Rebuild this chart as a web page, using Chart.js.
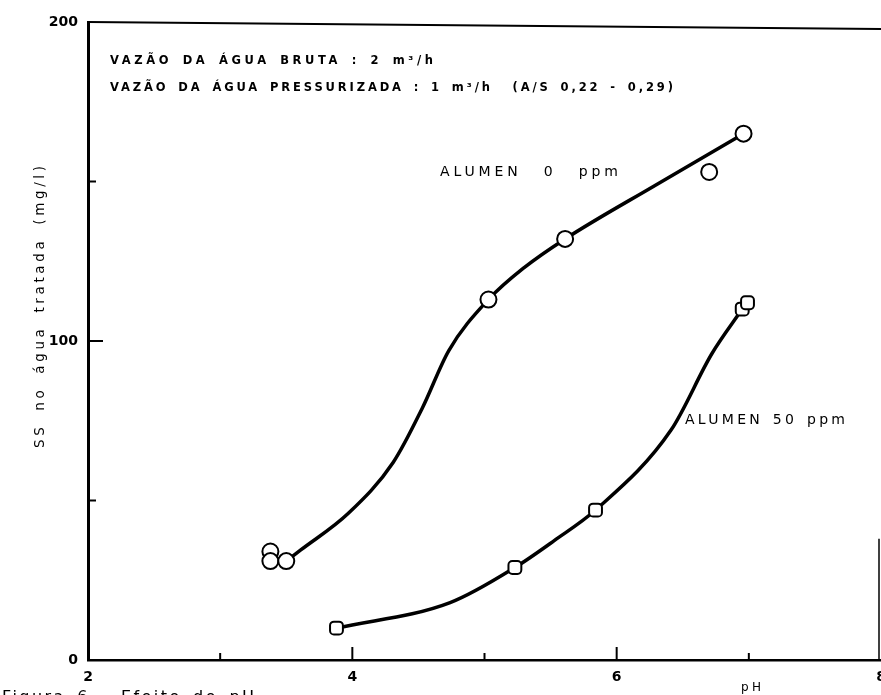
<!DOCTYPE html>
<html><head><meta charset="utf-8">
<script src="https://cdn.jsdelivr.net/npm/chart.js@4.4.1/dist/chart.umd.min.js"></script>
<style>html,body{margin:0;padding:0;background:#fff;overflow:hidden}
#wrap{position:relative;width:881px;height:695px;overflow:hidden}
canvas{display:block}</style></head>
<body><div id="wrap"><canvas id="c" width="891" height="695"></canvas></div>
<script>
// Measured points (pH, SS mg/l)
const phAlumen0 = [3.38, 3.38, 3.50, 5.03, 5.61, 6.70, 6.96];
const ssAlumen0 = [34, 31, 31, 113, 132, 153, 165];
const phAlumen50 = [3.88, 5.23, 5.84, 6.95, 6.99];
const ssAlumen50 = [10, 29, 47, 110, 112];
// Hand-drawn fitted curves
const phCurve0 = [3.50, 3.61, 3.97, 4.31, 4.53, 4.73, 5.03, 5.30, 5.61, 6.30, 6.96];
const ssCurve0 = [31, 34.5, 46, 62, 79, 97, 113, 123, 132, 149, 165];
const phCurve50 = [3.88, 4.74, 5.23, 5.53, 5.84, 6.41, 6.72, 6.95];
const ssCurve50 = [10, 18, 29, 37.5, 47, 72, 96, 110];
// Axis ticks
const xLabeledTicks = [2, 4, 6, 8];
const xMajorMarks = [4, 6];
const xMinorMarks = [3, 5, 7];
const yLabeledTicks = [0, 100, 200];
const yMajorMarks = [100];
const yMinorMarks = [50, 150];
// Texts
const noteLine1 = 'VAZÃO DA ÁGUA BRUTA : 2 m³/h';
const noteLine2 = 'VAZÃO DA ÁGUA PRESSURIZADA : 1 m³/h  (A/S 0,22 - 0,29)';
const label0 = 'ALUMEN 0 ppm';
const label50 = 'ALUMEN 50 ppm';
const yTitle = 'SS no água tratada (mg/l)';
const xTitle = 'pH';
const caption = 'Figura 6 - Efeito do pH';

const pts = (xs, ys) => xs.map((x, i) => ({x: x, y: ys[i]}));

function fitText(ctx, text, x, y, width, font, ws) {
  ctx.save();
  ctx.font = font;
  ctx.fillStyle = '#000';
  ctx.textBaseline = 'middle';
  ctx.textAlign = 'left';
  ctx.letterSpacing = '0px';
  ctx.wordSpacing = (ws || 0) + 'px';
  const w0 = ctx.measureText(text).width;
  const n = [...text].length;
  const ls = (width - w0) / (n - 1);
  ctx.letterSpacing = ls + 'px';
  ctx.fillText(text, x, y);
  ctx.restore();
}

const decor = {
  id: 'decor',
  afterDraw(chart) {
    const ctx = chart.ctx, a = chart.chartArea, xs = chart.scales.x, ys = chart.scales.y;
    ctx.save();
    ctx.strokeStyle = '#000';
    ctx.lineCap = 'butt';
    // frame top line & partial right line
    ctx.lineWidth = 2;
    ctx.beginPath(); ctx.moveTo(a.left, a.top); ctx.lineTo(a.right, a.top + 7); ctx.stroke();
    ctx.lineWidth = 1.5;
    ctx.beginPath(); ctx.moveTo(a.right - 2, ys.getPixelForValue(38)); ctx.lineTo(a.right - 2, a.bottom); ctx.stroke();
    // inward tick marks
    ctx.lineWidth = 2;
    const tick = (x1, y1, x2, y2) => { ctx.beginPath(); ctx.moveTo(x1, y1); ctx.lineTo(x2, y2); ctx.stroke(); };
    xMajorMarks.forEach(v => { const px = xs.getPixelForValue(v); tick(px, a.bottom, px, a.bottom - 13); });
    xMinorMarks.forEach(v => { const px = xs.getPixelForValue(v); tick(px, a.bottom, px, a.bottom - 7); });
    yMajorMarks.forEach(v => { const py = ys.getPixelForValue(v); tick(a.left, py, a.left + 15, py); });
    yMinorMarks.forEach(v => { const py = ys.getPixelForValue(v); tick(a.left, py, a.left + 8, py); });
    ctx.restore();

    // annotations
    fitText(ctx, noteLine1, 110, 61, 323, 'bold 11.5px "DejaVu Sans"', 3);
    fitText(ctx, noteLine2, 110, 88, 563, 'bold 11.5px "DejaVu Sans"', 3);
    fitText(ctx, label0, 440, 172, 178, '14px "DejaVu Sans"', 14);
    fitText(ctx, label50, 685, 420, 160, '14px "DejaVu Sans"', 2);
    // y title rotated
    ctx.save();
    ctx.translate(40, 307);
    ctx.rotate(-Math.PI / 2);
    fitText(ctx, yTitle, -141, 0, 282, '13.5px "DejaVu Sans"', 5);
    ctx.restore();
    // x title
    fitText(ctx, xTitle, 741, 688, 20, '12px "DejaVu Sans"', 0);
    // caption (cut by page edge as in the original)
    fitText(ctx, caption, 2, 698, 252, '16px "DejaVu Sans"', 4);
  }
};

const tickFont = {family: '"DejaVu Sans"', weight: 'bold', size: 14};

new Chart(document.getElementById('c'), {
  type: 'scatter',
  data: {
    datasets: [
      {label: label0, data: pts(phAlumen0, ssAlumen0), showLine: false, pointStyle: 'circle',
       pointRadius: 8, pointBorderWidth: 2, pointBackgroundColor: '#fff', pointBorderColor: '#000', order: 1},
      {label: label50, data: pts(phAlumen50, ssAlumen50), showLine: false, pointStyle: 'rectRounded',
       pointRadius: 7.5, pointBorderWidth: 2, pointBackgroundColor: '#fff', pointBorderColor: '#000', order: 1},
      {type: 'line', label: label0 + ' (curva)', data: pts(phCurve0, ssCurve0), borderColor: '#000', borderWidth: 3.5,
       pointRadius: 0, cubicInterpolationMode: 'monotone', fill: false, order: 2},
      {type: 'line', label: label50 + ' (curva)', data: pts(phCurve50, ssCurve50), borderColor: '#000', borderWidth: 3.5,
       pointRadius: 0, cubicInterpolationMode: 'monotone', fill: false, order: 2}
    ]
  },
  options: {
    responsive: false,
    animation: false,
    devicePixelRatio: 1,
    layout: {padding: {top: 22, right: 1, left: 0, bottom: 0}},
    plugins: {legend: {display: false}, tooltip: {enabled: false}},
    scales: {
      x: {
        type: 'linear', min: 2, max: 8,
        ticks: {stepSize: 1, autoSkip: false, maxRotation: 0, padding: 9, color: '#000', font: tickFont,
                callback: v => xLabeledTicks.includes(v) ? String(v) : ''},
        grid: {display: true, drawOnChartArea: false, drawTicks: false},
        border: {display: true, color: '#000', width: 2.5},
        afterFit: s => { s.height = 35; s.paddingLeft = 0; s.paddingRight = 0; }
      },
      y: {
        min: 0, max: 200,
        ticks: {stepSize: 50, autoSkip: false, padding: 10, color: '#000', font: tickFont,
                callback: v => yLabeledTicks.includes(v) ? String(v) : ''},
        grid: {display: true, drawOnChartArea: false, drawTicks: false},
        border: {display: true, color: '#000', width: 3},
        afterFit: s => { s.width = 88; s.paddingTop = 0; s.paddingBottom = 0; }
      }
    }
  },
  plugins: [decor]
});
</script></body></html>
